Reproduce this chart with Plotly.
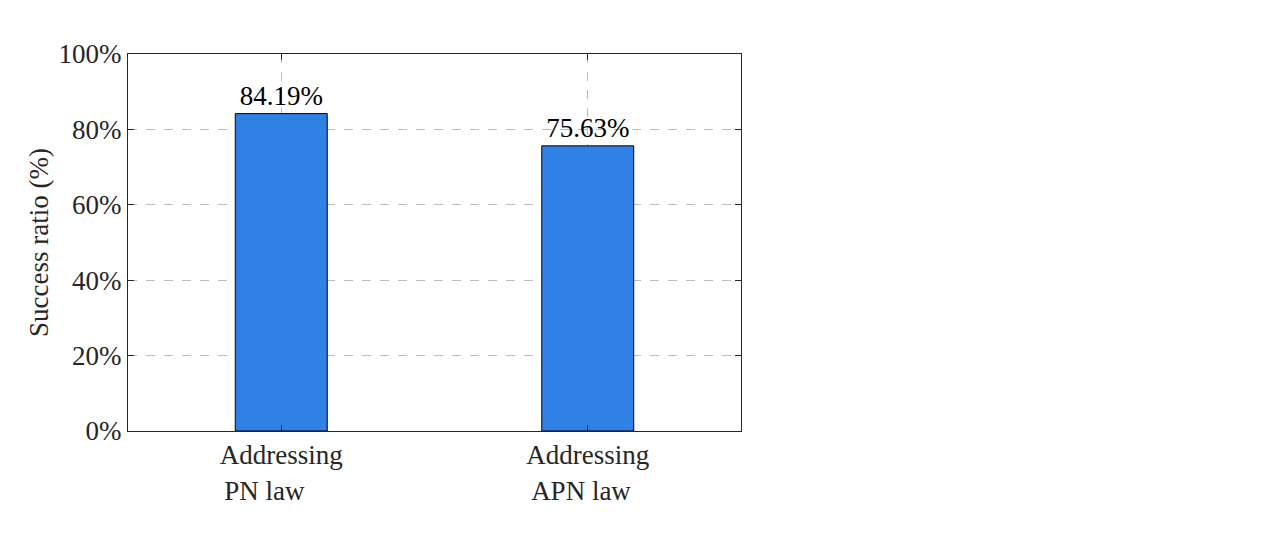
import plotly.graph_objects as go

nb = "\u00a0"
categories = ["Addressing<br>PN law" + nb * 5, "Addressing<br>APN law" + nb * 2]
success = [84.19, 75.63]
labels = ["84.19%", "75.63%"]

font = "Liberation Serif, Times New Roman, serif"
fs = 27

fig = go.Figure(go.Bar(
    x=categories, y=success, text=labels, textposition="outside",
    textfont=dict(family=font, size=fs, color="black"),
    marker=dict(color="#3180E6", line=dict(color="black", width=1)),
    width=0.3, cliponaxis=False,
))

# page body has an 8px margin, so margins are trimmed to match
fig.update_layout(
    width=1280, height=540, plot_bgcolor="white", paper_bgcolor="white",
    margin=dict(l=120, r=547, t=46, b=117),
    font=dict(family=font, size=fs, color="#262626"),
    showlegend=False,
)
fig.update_xaxes(
    showline=True, linecolor="#262626", linewidth=1, mirror="ticks",
    ticks="inside", ticklen=6, tickcolor="#262626",
    showgrid=True, gridcolor="#bdbdbd", griddash="dash", gridwidth=1,
    tickfont=dict(size=fs), automargin=False,
)
fig.update_yaxes(
    range=[0, 100], dtick=20, ticksuffix="%",
    showline=True, linecolor="#262626", linewidth=1, mirror="ticks",
    ticks="inside", ticklen=6, tickcolor="#262626",
    showgrid=True, gridcolor="#bdbdbd", griddash="dash", gridwidth=1,
    zeroline=False, tickfont=dict(size=fs), automargin=False,
    title=dict(text="Success ratio (%)", font=dict(size=fs), standoff=2),
)

fig.write_html("out.html")
